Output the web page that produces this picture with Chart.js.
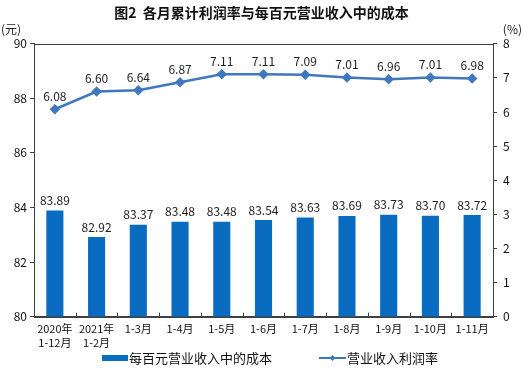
<!DOCTYPE html>
<html>
<head>
<meta charset="utf-8">
<script src="https://cdn.jsdelivr.net/npm/chart.js@4"></script>
<style>
  html, body { margin: 0; padding: 0; background: #fff; }
  #wrap { width: 523px; height: 376px; }
</style>
</head>
<body>
<div id="wrap"><canvas id="chart" width="523" height="376"></canvas></div>
<script>
// categories and values
const months = [["2020年", "1-12月"], ["2021年", "1-2月"], "1-3月", "1-4月", "1-5月", "1-6月", "1-7月", "1-8月", "1-9月", "1-10月", "1-11月"];
const costPerHundred = [83.89, 82.92, 83.37, 83.48, 83.48, 83.54, 83.63, 83.69, 83.73, 83.70, 83.72];
const profitRate = [6.08, 6.60, 6.64, 6.87, 7.11, 7.11, 7.09, 7.01, 6.96, 7.01, 6.98];
const leftTicks = [80, 82, 84, 86, 88, 90];
const rightTicks = [0, 1, 2, 3, 4, 5, 6, 7, 8];
const seriesNames = ['每百元营业收入中的成本', '营业收入利润率'];

const barColor = '#0a6cc0';
const lineColor = '#3f78bd';
const axisColor = '#404040';
const font = '"Noto Sans CJK SC", "DejaVu Sans", sans-serif';

// frame, inner x ticks, unit labels, value labels and legend
const extras = {
    id: 'extras',
    beforeDatasetsDraw(chart) {
        const { ctx, chartArea: a, scales } = chart;
        ctx.save();
        ctx.strokeStyle = axisColor;
        ctx.lineWidth = 1;
        ctx.strokeRect(Math.round(a.left) + 0.5, Math.round(a.top) + 0.5, Math.round(a.right - a.left), Math.round(a.bottom - a.top));
        const x = scales.x;
        const step = (x.getPixelForTick(1) - x.getPixelForTick(0));
        ctx.beginPath();
        for (let i = 1; i < months.length; i++) {
            const px = Math.round(x.getPixelForTick(i) - step / 2) + 0.5;
            ctx.moveTo(px, a.bottom);
            ctx.lineTo(px, a.bottom - 4);
        }
        ctx.stroke();
        ctx.restore();
    },
    afterDatasetsDraw(chart) {
        const { ctx } = chart;
        ctx.save();
        ctx.fillStyle = '#222';
        ctx.font = '12px ' + font;
        ctx.textAlign = 'center';
        ctx.textBaseline = 'bottom';
        chart.getDatasetMeta(0).data.forEach((el, i) => {
            ctx.fillText(costPerHundred[i].toFixed(2), el.x, el.y - 4);
        });
        chart.getDatasetMeta(1).data.forEach((el, i) => {
            ctx.fillText(profitRate[i].toFixed(2), el.x, el.y - 7);
        });
        ctx.textBaseline = 'middle';
        ctx.textAlign = 'left';
        ctx.fillText('(元)', 1, 29);
        ctx.textAlign = 'right';
        ctx.fillText('(%)', 522, 29);

        // legend
        const ly = 358;
        ctx.fillStyle = barColor;
        ctx.fillRect(102, ly - 3, 26, 6);
        ctx.strokeStyle = lineColor;
        ctx.lineWidth = 2;
        ctx.beginPath(); ctx.moveTo(319, ly); ctx.lineTo(346, ly); ctx.stroke();
        ctx.fillStyle = lineColor;
        ctx.beginPath(); ctx.moveTo(332.5, ly - 3); ctx.lineTo(335.5, ly); ctx.lineTo(332.5, ly + 3); ctx.lineTo(329.5, ly); ctx.closePath(); ctx.fill();
        ctx.fillStyle = '#111';
        ctx.font = '13px ' + font;
        ctx.textAlign = 'left';
        ctx.fillText(seriesNames[0], 129, ly);
        ctx.fillText(seriesNames[1], 347, ly);
        ctx.restore();
    }
};

new Chart(document.getElementById('chart'), {
    type: 'bar',
    data: {
        labels: months,
        datasets: [{
            label: seriesNames[0],
            data: costPerHundred,
            backgroundColor: barColor,
            yAxisID: 'y',
            barPercentage: 0.82,
            categoryPercentage: 0.5,
            order: 2
        }, {
            type: 'line',
            label: seriesNames[1],
            data: profitRate,
            borderColor: lineColor,
            backgroundColor: lineColor,
            borderWidth: 2.5,
            pointStyle: 'rectRot',
            pointRadius: 3.5,
            pointHoverRadius: 3.5,
            yAxisID: 'y1',
            order: 1
        }]
    },
    options: {
        responsive: false,
        animation: false,
        devicePixelRatio: 1,
        layout: { padding: { top: 0, right: 0, bottom: 21, left: 0 } },
        plugins: {
            title: {
                display: true,
                text: '图2  各月累计利润率与每百元营业收入中的成本',
                color: '#111',
                font: { family: font, size: 14, weight: 'bold' },
                padding: { top: 4, bottom: 23 }
            },
            legend: { display: false },
            tooltip: { enabled: false }
        },
        scales: {
            x: {
                grid: { display: false, drawTicks: false },
                border: { color: axisColor },
                ticks: { color: '#111', font: { family: font, size: 11 }, padding: 6, maxRotation: 0, autoSkip: false }
            },
            y: {
                position: 'left',
                min: 80, max: 90,
                afterBuildTicks(s) { s.ticks = leftTicks.map(v => ({ value: v })); },
                afterFit(s) { s.width = 34; },
                grid: { drawOnChartArea: false, tickLength: 4, color: axisColor },
                border: { color: axisColor },
                ticks: { color: '#111', font: { family: font, size: 12 }, padding: 3 }
            },
            y1: {
                position: 'right',
                min: 0, max: 8,
                afterBuildTicks(s) { s.ticks = rightTicks.map(v => ({ value: v })); },
                afterFit(s) { s.width = 30; },
                grid: { drawOnChartArea: false, tickLength: 4, color: axisColor },
                border: { color: axisColor },
                ticks: { color: '#111', font: { family: font, size: 12 }, padding: 6 }
            }
        }
    },
    plugins: [extras]
});
</script>
</body>
</html>
